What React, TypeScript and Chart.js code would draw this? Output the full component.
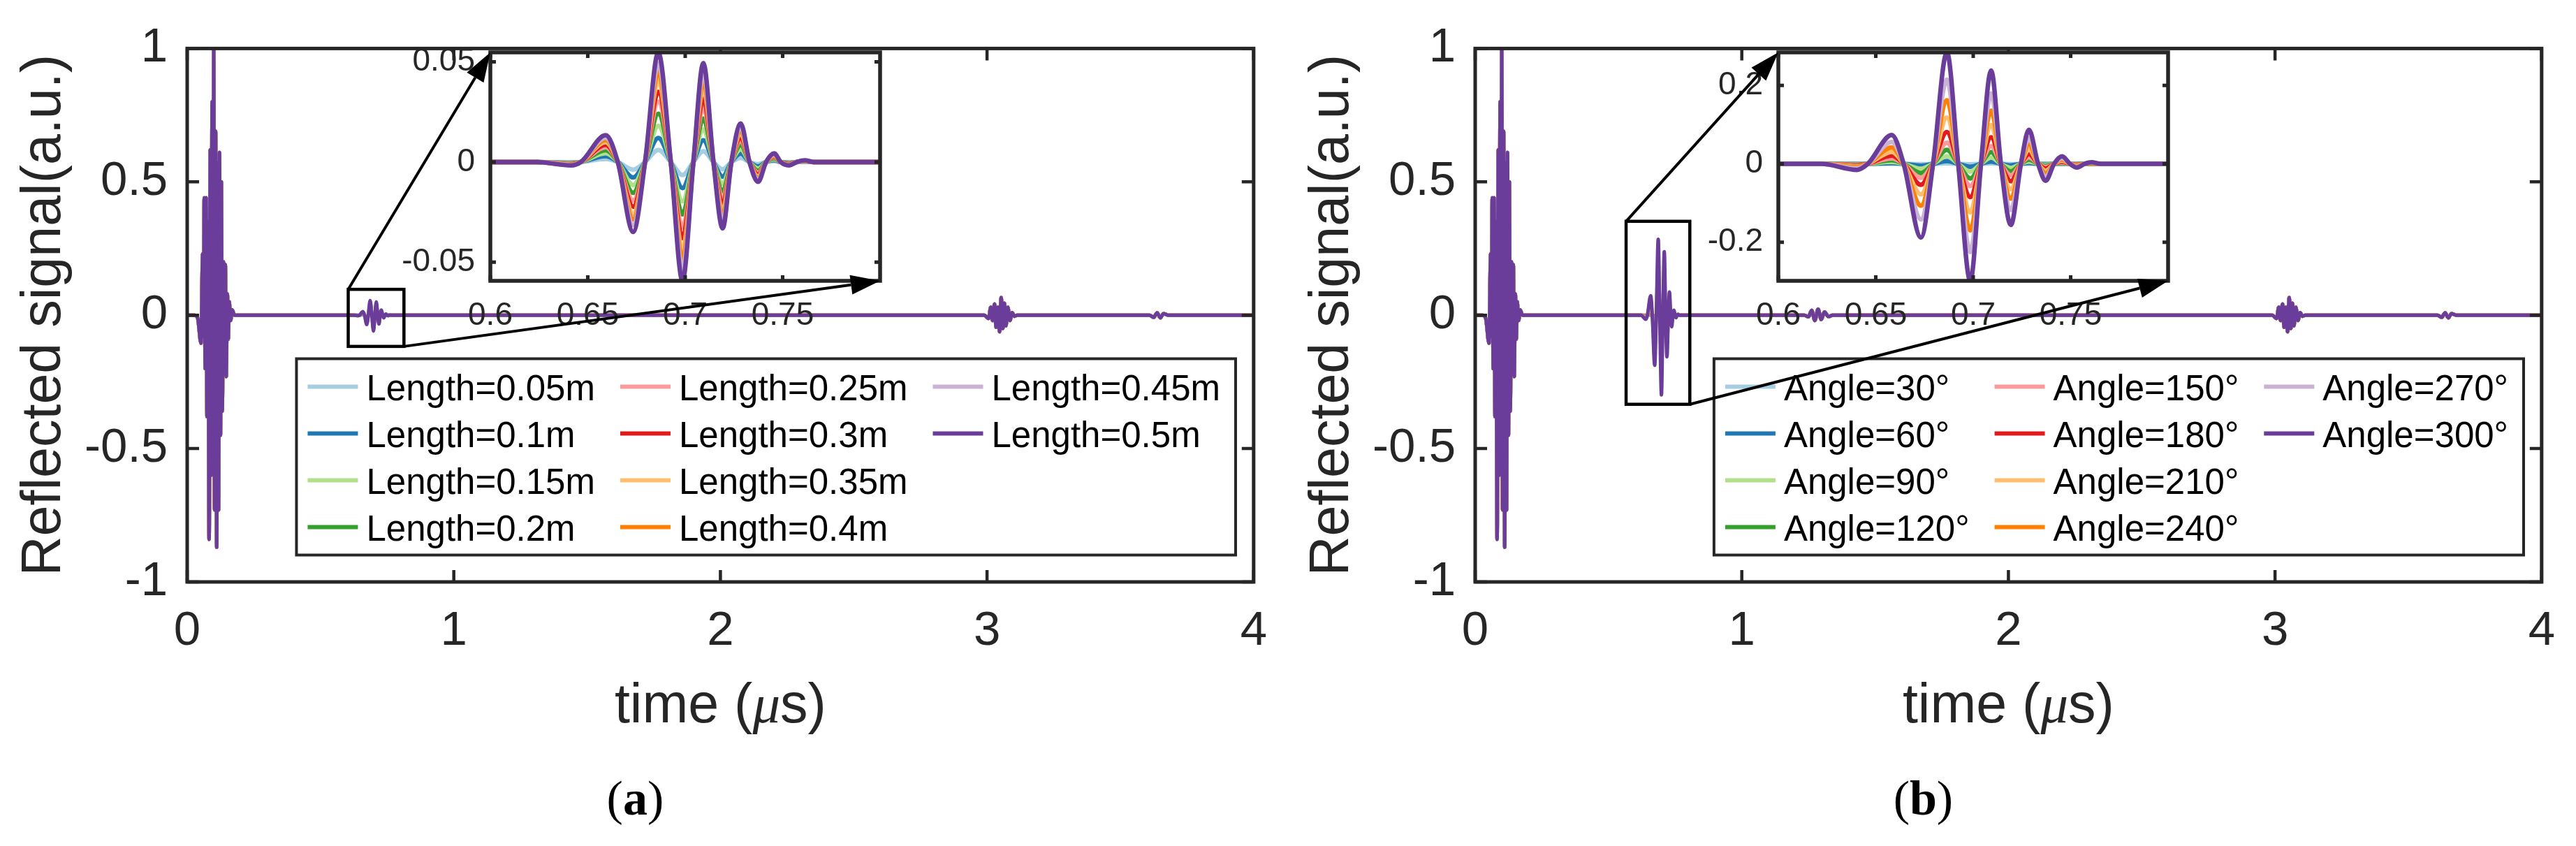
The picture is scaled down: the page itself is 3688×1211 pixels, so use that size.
import React, { useEffect, useRef } from 'react';
import { Chart, registerables } from 'chart.js';

Chart.register(...registerables);

const PANEL_W = 1844;
const PANEL_H = 1211;
const SANS = '"Liberation Sans", Arial, Helvetica, sans-serif';
const SERIF = '"Liberation Serif", "Times New Roman", serif';
const INK = '#262626';

const SERIES_COLORS = ['#a6cee3', '#1f78b4', '#b2df8a', '#33a02c', '#fb9a99', '#e31a1c', '#fdbf6f', '#ff7f00', '#cab2d6', '#6a3d9a'];

const LENGTH_LABELS = ['Length=0.05m', 'Length=0.1m', 'Length=0.15m', 'Length=0.2m', 'Length=0.25m', 'Length=0.3m', 'Length=0.35m', 'Length=0.4m', 'Length=0.45m', 'Length=0.5m'];
const ANGLE_LABELS = ['Angle=30°', 'Angle=60°', 'Angle=90°', 'Angle=120°', 'Angle=150°', 'Angle=180°', 'Angle=210°', 'Angle=240°', 'Angle=270°', 'Angle=300°'];

const MAIN_X_TICKS = [0, 1, 2, 3, 4];
const MAIN_Y_TICKS = [-1, -0.5, 0, 0.5, 1];
const INSET_X_TICKS = [0.6, 0.65, 0.7, 0.75];
const INSET_Y_TICKS_A = [-0.05, 0, 0.05];
const INSET_Y_TICKS_B = [-0.2, 0, 0.2];

// incident pulse (common to every series)
const PULSE_T = [0, 0.026, 0.039, 0.0519, 0.058, 0.0606, 0.0641, 0.0675, 0.071, 0.0745, 0.0779, 0.0823, 0.0866, 0.09, 0.0935, 0.097, 0.0996, 0.103, 0.1065, 0.1108, 0.1143, 0.1177, 0.1212, 0.1247, 0.1281, 0.1316, 0.1359, 0.1394, 0.1429, 0.1463, 0.1506, 0.1541, 0.1576, 0.1628, 0.1688, 0.1775];
const PULSE_V = [0, 0, -0.01, -0.105, 0.23, -0.08, 0.44, -0.2, 0.44, -0.38, 0.35, -0.84, 0.62, -0.6, 0.8, -0.43, 1.0, -0.73, 0.69, -0.87, 0.57, -0.73, 0.61, -0.45, 0.5, -0.36, 0.2, -0.2, 0.19, -0.23, 0.08, -0.09, 0.05, -0.02, 0.02, 0];

// late echoes (common)
const TAIL_T = [2.99, 3.006, 3.014, 3.021, 3.028, 3.034, 3.041, 3.047, 3.053, 3.059, 3.065, 3.071, 3.078, 3.086, 3.094, 3.103, 3.113, 3.61, 3.625, 3.638, 3.65, 3.662, 3.68, 4.0];
const TAIL_V = [0, -0.012, 0.03, -0.02, 0.042, -0.045, 0.03, -0.062, 0.066, -0.05, 0.045, -0.04, 0.03, -0.02, 0.01, -0.004, 0, 0, -0.008, 0.009, -0.01, 0.006, 0, 0];

// small wiggle only present in panel (b)
const WIGGLE_B_T = [1.235, 1.25, 1.262, 1.274, 1.286, 1.298, 1.31, 1.325, 1.34];
const WIGGLE_B_V = [0, -0.006, 0.018, -0.02, 0.023, -0.016, 0.012, -0.005, 0];

// defect echo, panel (a): time grid and one array per length
const INSET_T_A = [0.6, 0.624, 0.6414, 0.6465, 0.6592, 0.6654, 0.6733, 0.6794, 0.6862, 0.6926, 0.6986, 0.7042, 0.7093, 0.7145, 0.7192, 0.7237, 0.7285, 0.733, 0.7374, 0.7415, 0.7457, 0.749, 0.7532, 0.7573, 0.7614, 0.766, 0.8];
const A_005 = [0, 0, -0.0002, 0, 0.0015, 0, -0.0038, 0, 0.0060, 0, -0.0065, 0, 0.0054, 0, -0.0036, 0, 0.0021, 0, -0.0011, 0, 0.0005, 0, -0.0002, 0, 0.0001, 0, 0];
const A_010 = [0, 0, -0.0004, 0, 0.0029, 0, -0.0077, 0, 0.0120, 0, -0.0130, 0, 0.0109, 0, -0.0073, 0, 0.0042, 0, -0.0022, 0, 0.0009, 0, -0.0004, 0, 0.0002, 0, 0];
const A_015 = [0, 0, -0.0006, 0, 0.0044, 0, -0.0115, 0, 0.0181, 0, -0.0196, 0, 0.0163, 0, -0.0109, 0, 0.0063, 0, -0.0033, 0, 0.0014, 0, -0.0006, 0, 0.0003, 0, 0];
const A_020 = [0, 0, -0.0007, 0, 0.0059, 0, -0.0154, 0, 0.0241, 0, -0.0261, 0, 0.0217, 0, -0.0146, 0, 0.0084, 0, -0.0044, 0, 0.0019, 0, -0.0007, 0, 0.0004, 0, 0];
const A_025 = [0, 0, -0.0009, 0, 0.0074, 0, -0.0192, 0, 0.0301, 0, -0.0326, 0, 0.0272, 0, -0.0182, 0, 0.0106, 0, -0.0054, 0, 0.0024, 0, -0.0009, 0, 0.0004, 0, 0];
const A_030 = [0, 0, -0.0011, 0, 0.0086, 0, -0.0223, 0, 0.0350, 0, -0.0380, 0, 0.0316, 0, -0.0212, 0, 0.0123, 0, -0.0063, 0, 0.0028, 0, -0.0011, 0, 0.0005, 0, 0];
const A_035 = [0, 0, -0.0013, 0, 0.0099, 0, -0.0258, 0, 0.0405, 0, -0.0439, 0, 0.0366, 0, -0.0245, 0, 0.0142, 0, -0.0073, 0, 0.0032, 0, -0.0013, 0, 0.0006, 0, 0];
const A_040 = [0, 0, -0.0014, 0, 0.0110, 0, -0.0286, 0, 0.0449, 0, -0.0486, 0, 0.0405, 0, -0.0271, 0, 0.0157, 0, -0.0081, 0, 0.0035, 0, -0.0014, 0, 0.0007, 0, 0];
const A_045 = [0, 0, -0.0015, 0, 0.0121, 0, -0.0314, 0, 0.0492, 0, -0.0534, 0, 0.0445, 0, -0.0298, 0, 0.0173, 0, -0.0089, 0, 0.0039, 0, -0.0015, 0, 0.0007, 0, 0];
const A_050 = [0, 0, -0.0017, 0, 0.0134, 0, -0.0349, 0, 0.0547, 0, -0.0593, 0, 0.0494, 0, -0.0331, 0, 0.0192, 0, -0.0099, 0, 0.0043, 0, -0.0017, 0, 0.0008, 0, 0];

// defect echo, panel (b): time grid and one array per angle
const INSET_T_B = [0.6, 0.622, 0.6404, 0.6459, 0.6582, 0.6643, 0.6732, 0.6794, 0.6865, 0.6923, 0.6985, 0.704, 0.7092, 0.7142, 0.7193, 0.7245, 0.7286, 0.7333, 0.7372, 0.7415, 0.7456, 0.7497, 0.7531, 0.7572, 0.7607, 0.7654, 0.8];
const B_030 = [0, 0, -0.0001, 0, 0.0004, 0, -0.0009, 0, 0.0014, 0, -0.0015, 0, 0.0012, 0, -0.0008, 0, 0.0004, 0, -0.0002, 0, 0.0001, 0, 0, 0, 0, 0, 0];
const B_060 = [0, 0, -0.0004, 0, 0.0018, 0, -0.0047, 0, 0.0071, 0, -0.0075, 0, 0.0060, 0, -0.0039, 0, 0.0022, 0, -0.0011, 0, 0.0005, 0, -0.0002, 0, 0.0001, 0, 0];
const B_090 = [0, 0, -0.0010, 0, 0.0049, 0, -0.0126, 0, 0.0191, 0, -0.0200, 0, 0.0159, 0, -0.0105, 0, 0.0058, 0, -0.0029, 0, 0.0013, 0, -0.0006, 0, 0.0003, 0, 0];
const B_120 = [0, 0, -0.0019, 0, 0.0092, 0, -0.0235, 0, 0.0356, 0, -0.0373, 0, 0.0298, 0, -0.0195, 0, 0.0109, 0, -0.0054, 0, 0.0024, 0, -0.0012, 0, 0.0005, 0, 0];
const B_150 = [0, 0, -0.0029, 0, 0.0140, 0, -0.0357, 0, 0.0540, 0, -0.0566, 0, 0.0452, 0, -0.0296, 0, 0.0165, 0, -0.0082, 0, 0.0036, 0, -0.0018, 0, 0.0008, 0, 0];
const B_180 = [0, 0, -0.0044, 0, 0.0209, 0, -0.0536, 0, 0.0811, 0, -0.0849, 0, 0.0678, 0, -0.0445, 0, 0.0248, 0, -0.0123, 0, 0.0054, 0, -0.0027, 0, 0.0012, 0, 0];
const B_210 = [0, 0, -0.0064, 0, 0.0305, 0, -0.0780, 0, 0.1180, 0, -0.1237, 0, 0.0988, 0, -0.0647, 0, 0.0361, 0, -0.0180, 0, 0.0079, 0, -0.0039, 0, 0.0017, 0, 0];
const B_240 = [0, 0, -0.0088, 0, 0.0419, 0, -0.1072, 0, 0.1621, 0, -0.1699, 0, 0.1357, 0, -0.0889, 0, 0.0496, 0, -0.0247, 0, 0.0108, 0, -0.0054, 0, 0.0023, 0, 0];
const B_270 = [0, 0, -0.0116, 0, 0.0555, 0, -0.1419, 0, 0.2147, 0, -0.2250, 0, 0.1797, 0, -0.1178, 0, 0.0658, 0, -0.0327, 0, 0.0143, 0, -0.0072, 0, 0.0031, 0, 0];
const B_300 = [0, 0, -0.0154, 0, 0.0735, 0, -0.1880, 0, 0.2844, 0, -0.2987, 0, 0.2380, 0, -0.1560, 0, 0.0871, 0, -0.0433, 0, 0.0190, 0, -0.0095, 0, 0.0041, 0, 0];

const PANEL_A = {
  labels: LENGTH_LABELS,
  insetT: INSET_T_A,
  insetSeries: [A_005, A_010, A_015, A_020, A_025, A_030, A_035, A_040, A_045, A_050],
  insetYMin: -0.0593,
  insetYMax: 0.0547,
  insetYTicks: INSET_Y_TICKS_A,
  zoomBox: { x0: 0.604, x1: 0.813, y0: -0.117, y1: 0.097 },
  extraT: [] as number[],
  extraV: [] as number[],
  letter: 'a',
};

const PANEL_B = {
  labels: ANGLE_LABELS,
  insetT: INSET_T_B,
  insetSeries: [B_030, B_060, B_090, B_120, B_150, B_180, B_210, B_240, B_270, B_300],
  insetYMin: -0.2987,
  insetYMax: 0.2844,
  insetYTicks: INSET_Y_TICKS_B,
  zoomBox: { x0: 0.566, x1: 0.805, y0: -0.334, y1: 0.352 },
  extraT: WIGGLE_B_T,
  extraV: WIGGLE_B_V,
  letter: 'b',
};

const fmtTick = (v: any) => String(Math.round(Number(v) * 10000) / 10000);

function buildMainPoints(insetT: number[], vals: number[], extraT: number[], extraV: number[]) {
  const pts: any[] = [];
  PULSE_T.forEach((t, k) => pts.push({ x: t, y: PULSE_V[k] }));
  insetT.forEach((t, k) => pts.push({ x: t, y: vals[k] }));
  extraT.forEach((t, k) => pts.push({ x: t, y: extraV[k] }));
  TAIL_T.forEach((t, k) => pts.push({ x: t, y: TAIL_V[k] }));
  return pts;
}

function drawFrame(chart: any, tickLen: number, lw: number) {
  const { ctx, chartArea: a, scales } = chart;
  ctx.save();
  ctx.strokeStyle = INK;
  ctx.lineWidth = lw;
  ctx.lineCap = 'butt';
  ctx.beginPath();
  for (const t of scales.x.ticks) {
    const px = scales.x.getPixelForValue(t.value);
    ctx.moveTo(px, a.bottom);
    ctx.lineTo(px, a.bottom - tickLen);
    ctx.moveTo(px, a.top);
    ctx.lineTo(px, a.top + tickLen);
  }
  for (const t of scales.y.ticks) {
    const py = scales.y.getPixelForValue(t.value);
    ctx.moveTo(a.left, py);
    ctx.lineTo(a.left + tickLen, py);
    ctx.moveTo(a.right, py);
    ctx.lineTo(a.right - tickLen, py);
  }
  ctx.stroke();
  ctx.lineJoin = 'miter';
  ctx.lineWidth = lw + 0.5;
  ctx.strokeRect(a.left, a.top, a.right - a.left, a.bottom - a.top);
  ctx.restore();
}

function drawArrow(ctx: any, x0: number, y0: number, x1: number, y1: number) {
  const ang = Math.atan2(y1 - y0, x1 - x0);
  const L = 42;
  const hw = 14;
  const bx = x1 - L * Math.cos(ang);
  const by = y1 - L * Math.sin(ang);
  ctx.beginPath();
  ctx.moveTo(x0, y0);
  ctx.lineTo(bx, by);
  ctx.stroke();
  ctx.beginPath();
  ctx.moveTo(x1, y1);
  ctx.lineTo(bx + hw * Math.sin(ang), by - hw * Math.cos(ang));
  ctx.lineTo(bx - hw * Math.sin(ang), by + hw * Math.cos(ang));
  ctx.closePath();
  ctx.fill();
}

function mainDecor(cfg: any) {
  return {
    id: 'mainDecor' + cfg.letter,
    beforeDraw(chart: any) {
      const ctx = chart.ctx;
      ctx.save();
      ctx.fillStyle = '#ffffff';
      ctx.fillRect(0, 0, chart.width, chart.height);
      ctx.restore();
    },
    afterDraw(chart: any) {
      const { ctx, chartArea: a, scales } = chart;
      drawFrame(chart, 17, 4.5);

      // zoom rectangle
      const zb = cfg.zoomBox;
      const zx0 = scales.x.getPixelForValue(zb.x0);
      const zx1 = scales.x.getPixelForValue(zb.x1);
      const zy0 = scales.y.getPixelForValue(zb.y1);
      const zy1 = scales.y.getPixelForValue(zb.y0);
      ctx.save();
      ctx.strokeStyle = '#000';
      ctx.lineWidth = 4.5;
      ctx.strokeRect(zx0, zy0, zx1 - zx0, zy1 - zy0);
      ctx.restore();

      // legend
      ctx.save();
      ctx.font = `51px ${SANS}`;
      const labels = chart.data.datasets.map((d: any) => d.label);
      const maxW = Math.max(...labels.map((l: string) => ctx.measureText(l).width));
      const colW = 84 + maxW + 36;
      const boxW = 16 + 2 * colW + 84 + maxW + 22;
      const right = 1769;
      const top = 513.5;
      const h = 281;
      const left = right - boxW;
      ctx.fillStyle = '#ffffff';
      ctx.fillRect(left, top, boxW, h);
      ctx.strokeStyle = INK;
      ctx.lineWidth = 4;
      ctx.strokeRect(left, top, boxW, h);
      chart.data.datasets.forEach((d: any, i: number) => {
        const col = Math.floor(i / 4);
        const row = i % 4;
        const x = left + 16 + col * colW;
        const y = top + 41 + row * 67;
        ctx.strokeStyle = d.borderColor;
        ctx.lineWidth = 6;
        ctx.beginPath();
        ctx.moveTo(x, y - 1);
        ctx.lineTo(x + 72, y - 1);
        ctx.stroke();
        ctx.fillStyle = '#000';
        ctx.textAlign = 'left';
        ctx.textBaseline = 'alphabetic';
        ctx.fillText(d.label, x + 84, y + 18);
      });
      ctx.restore();

      // axis titles
      ctx.save();
      ctx.fillStyle = INK;
      ctx.font = `79px ${SANS}`;
      ctx.textAlign = 'center';
      ctx.textBaseline = 'alphabetic';
      ctx.translate(a.left - 182, (a.top + a.bottom) / 2);
      ctx.rotate(-Math.PI / 2);
      ctx.fillText('Reflected signal(a.u.)', 0, 0);
      ctx.restore();

      const cx = (a.left + a.right) / 2;
      ctx.save();
      ctx.fillStyle = INK;
      ctx.textBaseline = 'alphabetic';
      ctx.textAlign = 'left';
      const parts = [
        { t: 'time (', f: `79px ${SANS}` },
        { t: 'μ', f: `italic 79px ${SERIF}` },
        { t: 's)', f: `79px ${SANS}` },
      ];
      let total = 0;
      const widths = parts.map((p) => { ctx.font = p.f; const w = ctx.measureText(p.t).width; total += w; return w; });
      let x = cx - total / 2;
      parts.forEach((p, i) => { ctx.font = p.f; ctx.fillText(p.t, x, 1034); x += widths[i]; });

      // panel letter
      ctx.fillStyle = '#000';
      const lp = [
        { t: '(', f: `70px ${SERIF}` },
        { t: cfg.letter, f: `bold 70px ${SERIF}` },
        { t: ')', f: `70px ${SERIF}` },
      ];
      let lt = 0;
      const lw = lp.map((p) => { ctx.font = p.f; const w = ctx.measureText(p.t).width; lt += w; return w; });
      let lx = cx - 122 - lt / 2;
      lp.forEach((p, i) => { ctx.font = p.f; ctx.fillText(p.t, lx, 1166); lx += lw[i]; });
      ctx.restore();
    },
  };
}

function insetDecor(cfg: any, main: any) {
  return {
    id: 'insetDecor' + cfg.letter,
    beforeDraw(chart: any) {
      const { ctx, chartArea: a } = chart;
      ctx.save();
      ctx.fillStyle = '#ffffff';
      ctx.fillRect(a.left, a.top, a.right - a.left, a.bottom - a.top);
      ctx.restore();
    },
    afterDraw(chart: any) {
      const { ctx, chartArea: a } = chart;
      drawFrame(chart, 8, 5);
      const ms = main.scales;
      const zb = cfg.zoomBox;
      const tlx = ms.x.getPixelForValue(zb.x0);
      const tly = ms.y.getPixelForValue(zb.y1);
      const brx = ms.x.getPixelForValue(zb.x1);
      const bry = ms.y.getPixelForValue(zb.y0);
      ctx.save();
      ctx.strokeStyle = '#000';
      ctx.fillStyle = '#000';
      ctx.lineWidth = 4;
      drawArrow(ctx, tlx, tly, a.left, a.top);
      drawArrow(ctx, brx, bry, a.right, a.bottom);
      ctx.restore();
    },
  };
}

function tickFont(size: number) {
  return { family: SANS, size };
}

function buildMainConfig(cfg: any): any {
  const datasets = cfg.insetSeries.map((vals: number[], i: number) => ({
    label: cfg.labels[i],
    data: buildMainPoints(cfg.insetT, vals, cfg.extraT, cfg.extraV),
    borderColor: SERIES_COLORS[i],
    backgroundColor: SERIES_COLORS[i],
    borderWidth: 5,
    pointRadius: 0,
    fill: false,
    cubicInterpolationMode: 'monotone',
    borderJoinStyle: 'round',
    borderCapStyle: 'round',
    order: SERIES_COLORS.length - i,
  }));
  return {
    type: 'line',
    data: { datasets },
    options: {
      animation: false,
      responsive: false,
      devicePixelRatio: 1,
      events: [],
      layout: { padding: { left: 60, right: 36, top: 49, bottom: 228 } },
      plugins: { legend: { display: false }, tooltip: { enabled: false }, title: { display: false } },
      scales: {
        x: {
          type: 'linear',
          min: 0,
          max: 4,
          afterBuildTicks: (s: any) => { s.ticks = MAIN_X_TICKS.map((v) => ({ value: v })); },
          afterFit: (s: any) => { s.height = 150; },
          grid: { display: false, drawTicks: false },
          border: { display: false },
          ticks: { autoSkip: false, maxRotation: 0, minRotation: 0, padding: 30, color: INK, font: tickFont(69), callback: fmtTick },
        },
        y: {
          type: 'linear',
          min: -1,
          max: 1,
          afterBuildTicks: (s: any) => { s.ticks = MAIN_Y_TICKS.map((v) => ({ value: v })); },
          afterFit: (s: any) => { s.width = 208; },
          grid: { display: false, drawTicks: false },
          border: { display: false },
          ticks: { autoSkip: false, padding: 28, color: INK, font: tickFont(69), callback: fmtTick },
        },
      },
    },
    plugins: [mainDecor(cfg)],
  };
}

function buildInsetConfig(cfg: any, main: any): any {
  const datasets = cfg.insetSeries.map((vals: number[], i: number) => ({
    label: cfg.labels[i],
    data: cfg.insetT.map((t: number, k: number) => ({ x: t, y: vals[k] })),
    borderColor: SERIES_COLORS[i],
    backgroundColor: SERIES_COLORS[i],
    borderWidth: 6.5,
    pointRadius: 0,
    fill: false,
    cubicInterpolationMode: 'monotone',
    borderJoinStyle: 'round',
    borderCapStyle: 'round',
    order: SERIES_COLORS.length - i,
  }));
  return {
    type: 'line',
    data: { datasets },
    options: {
      animation: false,
      responsive: false,
      devicePixelRatio: 1,
      events: [],
      layout: { padding: { left: 522, right: 584, top: 75, bottom: 709 } },
      plugins: { legend: { display: false }, tooltip: { enabled: false }, title: { display: false } },
      scales: {
        x: {
          type: 'linear',
          min: 0.6,
          max: 0.8,
          afterBuildTicks: (s: any) => { s.ticks = INSET_X_TICKS.map((v) => ({ value: v })); },
          afterFit: (s: any) => { s.height = 100; },
          grid: { display: false, drawTicks: false },
          border: { display: false },
          ticks: { autoSkip: false, maxRotation: 0, minRotation: 0, padding: 23, color: INK, font: tickFont(46), callback: fmtTick },
        },
        y: {
          type: 'linear',
          min: cfg.insetYMin,
          max: cfg.insetYMax,
          afterBuildTicks: (s: any) => { s.ticks = cfg.insetYTicks.map((v: number) => ({ value: v })); },
          afterFit: (s: any) => { s.width = 180; },
          grid: { display: false, drawTicks: false },
          border: { display: false },
          ticks: { autoSkip: false, padding: 22, color: INK, font: tickFont(46), callback: fmtTick },
        },
      },
    },
    plugins: [insetDecor(cfg, main)],
  };
}

function Panel({ cfg, left }: { cfg: any; left: number }) {
  const mainRef = useRef<HTMLCanvasElement>(null);
  const insetRef = useRef<HTMLCanvasElement>(null);
  useEffect(() => {
    const main = new Chart(mainRef.current as HTMLCanvasElement, buildMainConfig(cfg));
    const inset = new Chart(insetRef.current as HTMLCanvasElement, buildInsetConfig(cfg, main));
    return () => {
      inset.destroy();
      main.destroy();
    };
  }, [cfg]);
  return (
    <div style={{ position: 'absolute', left, top: 0, width: PANEL_W, height: PANEL_H }}>
      <canvas ref={mainRef} width={PANEL_W} height={PANEL_H} style={{ position: 'absolute', left: 0, top: 0, width: PANEL_W, height: PANEL_H }} />
      <canvas ref={insetRef} width={PANEL_W} height={PANEL_H} style={{ position: 'absolute', left: 0, top: 0, width: PANEL_W, height: PANEL_H }} />
    </div>
  );
}

export default function App() {
  useEffect(() => {
    document.body.style.margin = '0';
  }, []);
  return (
    <div style={{ position: 'absolute', left: 0, top: 0, width: 3688, height: 1211, background: '#ffffff', overflow: 'hidden' }}>
      <Panel cfg={PANEL_A} left={0} />
      <Panel cfg={PANEL_B} left={PANEL_W} />
    </div>
  );
}
